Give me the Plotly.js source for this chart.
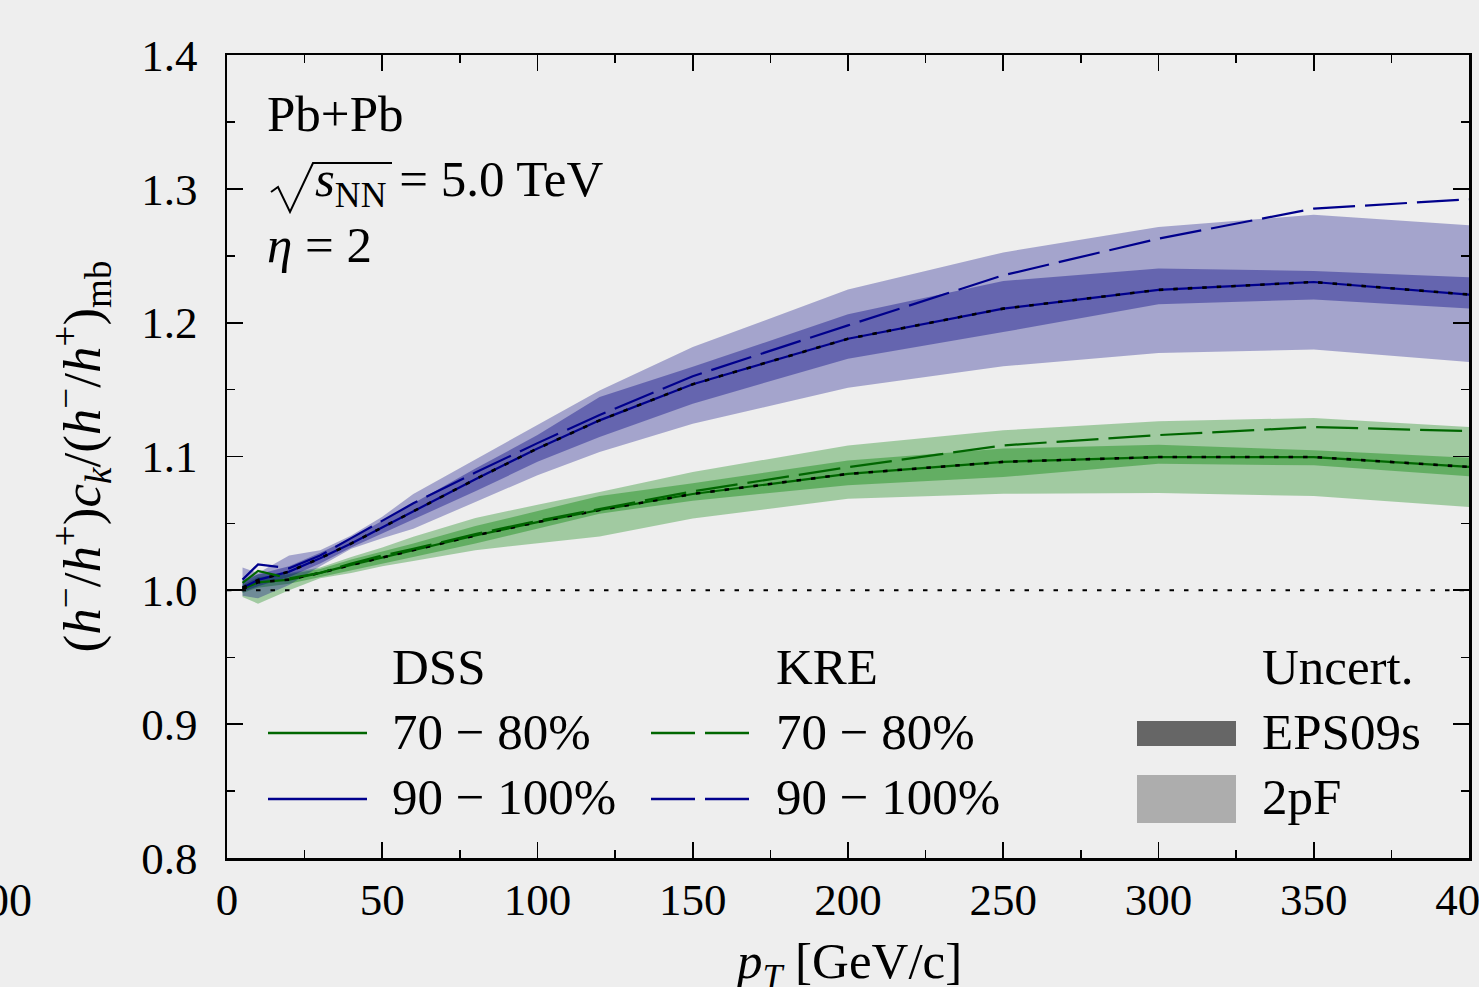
<!DOCTYPE html>
<html>
<head>
<meta charset="utf-8">
<script src="https://cdn.plot.ly/plotly-3.0.1.min.js"></script>
<style>html,body{margin:0;padding:0;background:#eeeeee;}</style>
</head>
<body>
<div id="chart" style="width:1479px;height:987px;"></div>
<script>
// ---- data ----
const pT = [5, 10, 20, 30, 40, 50, 60, 80, 100, 120, 150, 200, 250, 300, 350, 400];

// DSS central curves (EPS09s central set)
const dss7080  = [1.001, 1.006, 1.008, 1.013, 1.019, 1.0245, 1.030, 1.041, 1.051, 1.060, 1.072, 1.087, 1.096, 1.0996, 1.0996, 1.0922];
const dss90100 = [1.002, 1.0078, 1.014, 1.024, 1.035, 1.047, 1.059, 1.083, 1.106, 1.127, 1.154, 1.188, 1.2105, 1.2245, 1.2304, 1.221];

// KRE curves
const kre7080  = [1.0055, 1.0145, 1.009, 1.013, 1.020, 1.026, 1.031, 1.042, 1.052, 1.061, 1.074, 1.092, 1.1083, 1.116, 1.122, 1.119];
const kre90100 = [1.008, 1.0194, 1.0165, 1.026, 1.039, 1.052, 1.065, 1.088, 1.110, 1.131, 1.160, 1.198, 1.2354, 1.2628, 1.2852, 1.2922];

// EPS09s uncertainty bands
const eps7080Lo  = [0.998, 1.002, 1.005, 1.010, 1.015, 1.020, 1.025, 1.035, 1.046, 1.0573, 1.067, 1.0785, 1.0847, 1.0946, 1.0934, 1.0852];
const eps7080Hi  = [1.004, 1.010, 1.012, 1.016, 1.023, 1.029, 1.035, 1.048, 1.059, 1.0705, 1.080, 1.0971, 1.1059, 1.1088, 1.1046, 1.0991];
const eps90100Lo = [0.999, 1.003, 1.010, 1.020, 1.032, 1.042, 1.053, 1.074, 1.096, 1.1146, 1.1395, 1.1731, 1.193, 1.2137, 1.2174, 1.2105];
const eps90100Hi = [1.006, 1.012, 1.018, 1.028, 1.039, 1.052, 1.065, 1.091, 1.116, 1.1444, 1.167, 1.2062, 1.2311, 1.2404, 1.2386, 1.234];

// 2pF uncertainty bands
const pf7080Lo  = [0.995, 0.990, 1.000, 1.009, 1.013, 1.018, 1.022, 1.030, 1.035, 1.0403, 1.0536, 1.0685, 1.0722, 1.0727, 1.0705, 1.0623];
const pf7080Hi  = [1.008, 1.012, 1.013, 1.017, 1.025, 1.032, 1.040, 1.054, 1.064, 1.0735, 1.0884, 1.1083, 1.1196, 1.1263, 1.1288, 1.122];
const pf90100Lo = [0.996, 0.994, 1.004, 1.018, 1.031, 1.039, 1.046, 1.066, 1.086, 1.1033, 1.1245, 1.1514, 1.1674, 1.1773, 1.1799, 1.1706];
const pf90100Hi = [1.017, 1.013, 1.026, 1.030, 1.041, 1.055, 1.072, 1.098, 1.124, 1.1494, 1.1818, 1.2247, 1.2525, 1.2715, 1.2807, 1.2727];

// reference line
const refX = [0, 400];
const refY = [1, 1];

// axis ticks
const xTicks = [0, 50, 100, 150, 200, 250, 300, 350, 400];
const yTicks = [0.8, 0.9, 1.0, 1.1, 1.2, 1.3, 1.4];
const yTickText = ['0.8', '0.9', '1.0', '1.1', '1.2', '1.3', '1.4'];

// ---- styling ----
const FONT = 'Liberation Serif, Times New Roman, serif';
const BG = '#eeeeee';
const GREEN = '#006600';
const BLUE = '#00008c';
const G_LIGHT = 'rgba(0,128,0,0.32)';
const G_DARK = 'rgba(0,128,0,0.38)';
const B_LIGHT = 'rgba(0,0,128,0.31)';
const B_DARK = 'rgba(0,0,128,0.38)';
const DOTS = '4.5px,10px';
const DASHES = '42px,10px';

function band(lo, hi, color) {
  return {
    x: pT.concat(pT.slice().reverse()),
    y: hi.concat(lo.slice().reverse()),
    mode: 'lines', fill: 'toself', fillcolor: color,
    line: {width: 0}, hoverinfo: 'skip', showlegend: false
  };
}
function line(y, color, width, dash) {
  return {x: pT, y: y, mode: 'lines', line: {color: color, width: width, dash: dash || 'solid'},
          hoverinfo: 'skip', showlegend: false};
}

const traces = [
  band(pf7080Lo, pf7080Hi, G_LIGHT),
  band(eps7080Lo, eps7080Hi, G_DARK),
  band(pf90100Lo, pf90100Hi, B_LIGHT),
  band(eps90100Lo, eps90100Hi, B_DARK),
  {x: refX, y: refY, mode: 'lines', line: {color: 'black', width: 2, dash: DOTS}, hoverinfo: 'skip', showlegend: false},
  line(dss7080, GREEN, 2.2),
  line(dss90100, BLUE, 2.2),
  line(dss7080, 'black', 2.6, DOTS),
  line(dss90100, 'black', 2.6, DOTS),
  line(kre7080, GREEN, 2.2, DASHES),
  line(kre90100, BLUE, 2.2, DASHES)
];

// pixel -> paper helpers for decorations
const X0 = 227, X1 = 1469, Y0 = 858, Y1 = 55;
function px(x) { return (x - X0) / (X1 - X0); }
function py(y) { return (Y0 - y) / (Y0 - Y1); }

function txt(text, x, yTop, size) {
  return {text: text, xref: 'paper', yref: 'paper', x: px(x), y: py(yTop),
          xanchor: 'left', yanchor: 'top', showarrow: false, borderpad: 0,
          font: {family: FONT, size: size || 51, color: 'black'}};
}

const annotations = [
  txt('Pb+Pb', 266, 85),
  txt('<i>s</i><sub>NN</sub> = 5.0 TeV', 314, 150),
  txt('<i>η</i> = 2', 266, 216),
  txt('DSS', 391, 638),
  txt('KRE', 775, 638),
  txt('Uncert.', 1261, 638),
  txt('70 − 80%', 391, 703),
  txt('90 − 100%', 391, 768),
  txt('70 − 80%', 775, 703),
  txt('90 − 100%', 775, 768),
  txt('EPS09s', 1261, 703),
  txt('2pF', 1261, 768),
  // x-axis title (sits low, partly cut by the bottom edge as in the reference)
  {text: '<i>p</i><sub><i>T</i></sub> [GeV/c]', xref: 'paper', yref: 'paper', x: 0.5, y: py(932),
   xanchor: 'center', yanchor: 'top', showarrow: false, borderpad: 0,
   font: {family: FONT, size: 51, color: 'black'}},
  // tick label of the neighbouring panel, cut by the left edge
  {text: '400', xref: 'paper', yref: 'paper', x: px(-3), y: py(900), xanchor: 'center', yanchor: 'middle',
   showarrow: false, font: {family: FONT, size: 46, color: 'black'}}
];

const shapes = [
  // radical sign
  {type: 'path', xref: 'paper', yref: 'paper',
   path: 'M' + px(271) + ',' + py(192) + ' L' + px(278) + ',' + py(187) + ' L' + px(290) + ',' + py(212) +
         ' L' + px(313) + ',' + py(163) + ' L' + px(392) + ',' + py(163),
   line: {color: 'black', width: 2}},
  // legend samples
  {type: 'line', xref: 'paper', yref: 'paper', x0: px(268), x1: px(367), y0: py(733), y1: py(733), line: {color: GREEN, width: 2.5}},
  {type: 'line', xref: 'paper', yref: 'paper', x0: px(268), x1: px(367), y0: py(799), y1: py(799), line: {color: BLUE, width: 2.5}},
  {type: 'line', xref: 'paper', yref: 'paper', x0: px(651), x1: px(749), y0: py(733), y1: py(733), line: {color: GREEN, width: 2.5, dash: '44px,10px'}},
  {type: 'line', xref: 'paper', yref: 'paper', x0: px(651), x1: px(749), y0: py(799), y1: py(799), line: {color: BLUE, width: 2.5, dash: '44px,10px'}},
  {type: 'rect', xref: 'paper', yref: 'paper', x0: px(1137), x1: px(1236), y0: py(746), y1: py(721), fillcolor: '#666666', line: {width: 0}},
  {type: 'rect', xref: 'paper', yref: 'paper', x0: px(1137), x1: px(1236), y0: py(823), y1: py(775), fillcolor: '#adadad', line: {width: 0}}
];

const axisCommon = {
  ticks: 'inside', ticklen: 16, tickwidth: 1.8, tickcolor: 'black',
  showline: true, linewidth: 2.5, linecolor: 'black', mirror: 'ticks',
  showgrid: false, zeroline: false, ticklabeloverflow: 'allow',
  tickfont: {family: FONT, size: 45, color: 'black'}
};

const layout = {
  width: 1479, height: 987,
  margin: {l: 227, r: 10, t: 55, b: 129, pad: 0},
  paper_bgcolor: BG, plot_bgcolor: BG,
  showlegend: false,
  xaxis: Object.assign({}, axisCommon, {
    range: [0, 400], tickmode: 'array', tickvals: xTicks, ticktext: xTicks.map(String),
    ticklabelstandoff: 0,
    minor: {dtick: 25, tick0: 0, ticks: 'inside', ticklen: 8, tickwidth: 1.5, tickcolor: 'black'}
  }),
  yaxis: Object.assign({}, axisCommon, {
    range: [0.8, 1.4], tickmode: 'array', tickvals: yTicks, ticktext: yTickText,
    ticklabelstandoff: 18,
    minor: {dtick: 0.05, tick0: 0.8, ticks: 'inside', ticklen: 8, tickwidth: 1.5, tickcolor: 'black'},
    title: {text: '(<i>h</i><sup>−</sup>/<i>h</i><sup>+</sup>)<i>c<sub>k</sub></i>/(<i>h</i><sup>−</sup>/<i>h</i><sup>+</sup>)<sub>mb</sub>',
            font: {family: FONT, size: 53, color: 'black'}, standoff: 24}
  }),
  annotations: annotations,
  shapes: shapes
};

Plotly.newPlot('chart', traces, layout, {displayModeBar: false, staticPlot: true});
</script>
</body>
</html>
